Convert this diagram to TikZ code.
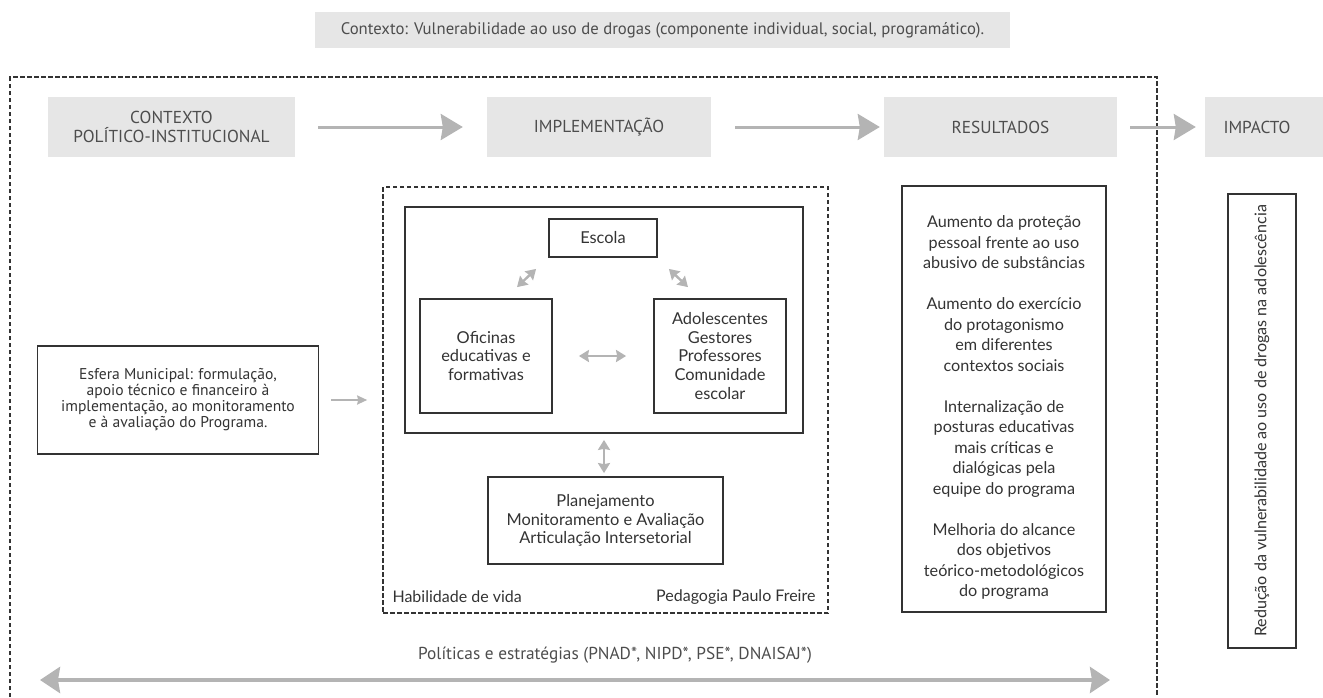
\documentclass[tikz,border=0pt]{standalone}
\usepackage{fontspec}
\setmainfont{Lato}
\newfontfamily\condfont{PT Sans}
\usepackage{xcolor}
\usetikzlibrary{arrows.meta}

\definecolor{boxgray}{RGB}{230,230,230}
\definecolor{arrowgray}{RGB}{180,180,180}
\definecolor{inkgray}{RGB}{51,51,51}
\definecolor{headgray}{RGB}{77,77,77}

\tikzset{
  hdrbox/.style={fill=boxgray, draw=none, minimum height=60, inner sep=0pt, align=center,
    text=headgray, font=\condfont\fontsize{17.3}{19}\selectfont},
  solidbox/.style={draw=inkgray, line width=1.8pt, inner sep=0pt, align=center,
    text=inkgray, font=\fontsize{16.4}{18.7}\selectfont},
  dashbox/.style={draw=inkgray, line width=1.6pt, dash pattern=on 4.5pt off 2.5pt},
  bigarrow/.style={draw=arrowgray, line width=3pt, -{Stealth[length=22pt,width=26pt,inset=2pt]}},
  biarrow/.style={draw=arrowgray, line width=2.4pt, {Stealth[length=10pt,width=12pt,inset=1pt]}-{Stealth[length=10pt,width=12pt,inset=1pt]}},
}

\begin{document}
\begin{tikzpicture}[x=1pt,y=-1pt]
\useasboundingbox (0,0) rectangle (1323,697);

% Context banner
\node[fill=boxgray, minimum width=695, minimum height=36, inner sep=0pt, text=headgray,
  font=\condfont\fontsize{16.7}{19}\selectfont] (ctxtop) at (662.5,30)
  {Contexto: Vulnerabilidade ao uso de drogas (componente individual, social, programático).};

%Shape: outer dashed frame, open at the bottom
\draw[dashbox] (10,697) -- (10,77) -- (1157,77) -- (1157,697);

% Header row
\node[hdrbox, minimum width=247] (politico) at (171.5,127) {CONTEXTO\\POLÍTICO-INSTITUCIONAL};
\node[hdrbox, minimum width=224] (implem) at (599,127) {IMPLEMENTAÇÃO};
\node[hdrbox, minimum width=233] (result) at (1000.5,127) {RESULTADOS};
\node[hdrbox, minimum width=118] (impacto) at (1264,127) {IMPACTO\hspace*{14pt}};

\draw[bigarrow, shorten <=23pt, shorten >=24pt] (politico.east) -- (implem.west);
\draw[bigarrow, shorten <=24pt, shorten >=4pt] (implem.east) -- (result.west);
\draw[bigarrow, shorten <=13pt, shorten >=9pt] (result.east) -- (impacto.west);

% Esfera Municipal
\node[solidbox, minimum width=281, minimum height=108, font=\condfont\fontsize{15.6}{16}\selectfont]
  (esfera) at (178,400)
  {Esfera Municipal: formulação,\\apoio técnico e financeiro à\\implementação, ao monitoramento\\e à avaliação do Programa.};

%Shape: inner dashed frame
\node[dashbox, minimum width=445, minimum height=426, inner sep=0pt] (habil) at (605.5,400) {};
\draw[draw=arrowgray, line width=2pt, -{Stealth[length=10pt,width=9pt,inset=1pt]},
  shorten <=12pt, shorten >=15pt] (esfera.east) -- (habil.west |- esfera.east);

% Text Node
\node[anchor=west, text=inkgray, font=\fontsize{16}{18}\selectfont] (vida) at (389,597) {Habilidade de vida};
% Text Node
\node[anchor=east, text=inkgray, font=\fontsize{16}{18}\selectfont] (freire) at (819,597) {Pedagogia Paulo Freire};

% School block
\node[solidbox, minimum width=398, minimum height=226] (escbox) at (604,320) {};
\node[solidbox, minimum width=108, minimum height=38] (escola) at (603,238) {Escola};
\node[solidbox, minimum width=132, minimum height=114] (oficinas) at (486,356)
  {Oficinas\\educativas e\\formativas};
\node[solidbox, minimum width=132, minimum height=114] (adol) at (720,356)
  {Adolescentes\\Gestores\\Professores\\Comunidade\\escolar};
\node[solidbox, minimum width=235, minimum height=87] (plan) at (605.5,520.5)
  {Planejamento\\Monitoramento e Avaliação\\Articulação Intersetorial};

\draw[biarrow] ([xshift=31pt,yshift=11pt]oficinas.north) -- ([xshift=-12pt,yshift=-11pt]escola.south west);
\draw[biarrow] ([xshift=11pt,yshift=-11pt]escola.south east) -- ([xshift=-32pt,yshift=11pt]adol.north);
\draw[biarrow, shorten <=26pt, shorten >=27pt] (oficinas.east) -- (adol.west);
\draw[biarrow, shorten <=6pt, shorten >=3pt] (escbox.south) -- (escbox.south |- plan.north);

% Results
\node[solidbox, minimum width=204, minimum height=426] (resbox) at (1004,399) {};
\node[align=center, text=inkgray, font=\fontsize{16.2}{20.5}\selectfont] (restxt) at (1004,408)
  {Aumento da proteção\\pessoal frente ao uso\\abusivo de substâncias\\[20.5pt]
   Aumento do exercício\\do protagonismo\\em diferentes\\contextos sociais\\[20.5pt]
   Internalização de\\posturas educativas\\mais críticas e\\dialógicas pela\\equipe do programa\\[20.5pt]
   Melhoria do alcance\\dos objetivos\\teórico-metodológicos\\do programa};

% Impact
\node[solidbox, minimum width=68, minimum height=454] (impbox) at (1262,421) {};
\node[rotate=90, text=inkgray, font=\fontsize{16.1}{18}\selectfont] (imptxt) at (impbox.center)
  {Redução da vulnerabilidade ao uso de drogas na adolescência};

% Policies
\coordinate (polL) at (40,680);
\coordinate (polR) at (1110,680);
\node[text=headgray, font=\condfont\fontsize{17.3}{19}\selectfont] (politicas) at (615,655)
  {Políticas e estratégias (PNAD*, NIPD*, PSE*, DNAISAJ*)};
\draw[draw=arrowgray, line width=4pt,
  {Stealth[length=20pt,width=26pt,inset=2pt]}-{Stealth[length=20pt,width=26pt,inset=2pt]}]
  (polL) -- (polR);

\end{tikzpicture}
\end{document}
